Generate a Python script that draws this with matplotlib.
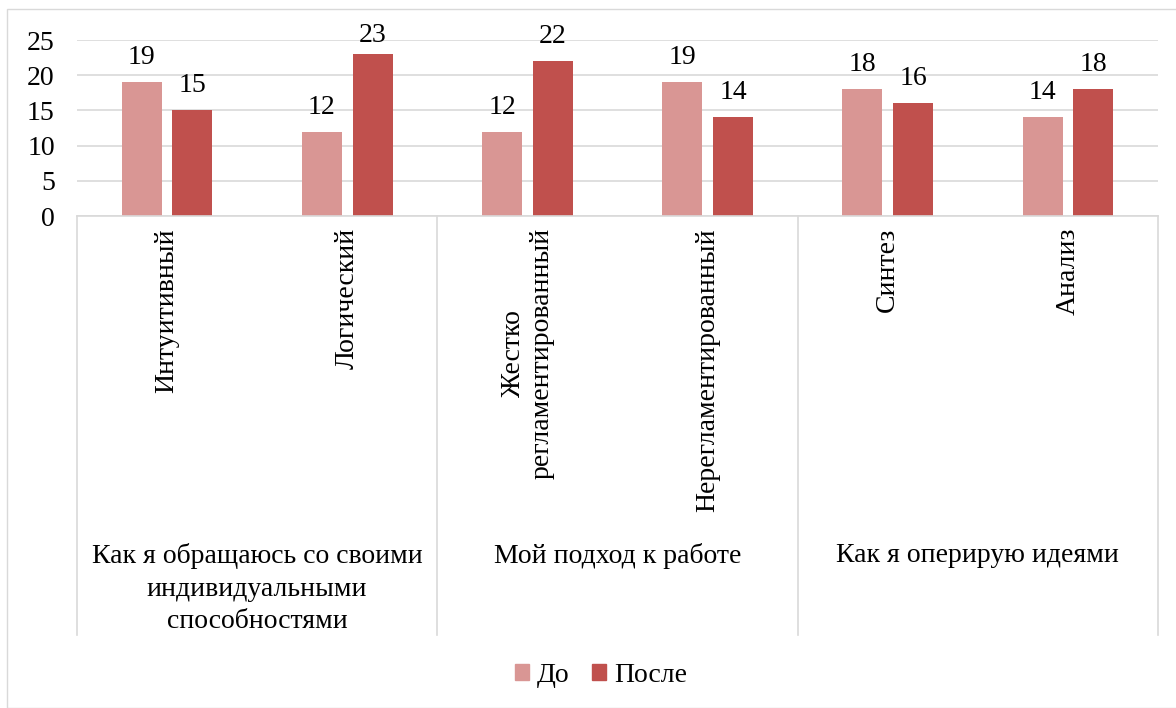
import matplotlib
matplotlib.use("Agg")
import matplotlib.pyplot as plt
import matplotlib.transforms as mtransforms
from matplotlib.patches import Rectangle
import numpy as np

plt.rcParams['font.family'] = ['Liberation Serif', 'DejaVu Serif']

categories = ["Интуитивный", "Логический", "Жестко\nрегламентированный",
              "Нерегламентированный", "Синтез", "Анализ"]
groups = ["Как я обращаюсь со своими\nиндивидуальными\nспособностями",
          "Мой подход к работе", "Как я оперирую идеями"]
group_sizes = [2, 2, 2]
series_names = ["До", "После"]
before = [19, 12, 12, 19, 18, 14]
after = [15, 23, 22, 14, 16, 18]
yticks = [0, 5, 10, 15, 20, 25]

c_before = "#D99694"
c_after = "#C0504D"
grid_c = "#D9D9D9"
fs = 20

W, H = 1176, 708
fig = plt.figure(figsize=(W / 100, H / 100), dpi=100)

# outer chart border
fig.patches.append(Rectangle((7 / W, 0), 1.2, 1 - 9 / H, transform=fig.transFigure,
                             fill=False, edgecolor=grid_c, linewidth=1.0))

ax_left, ax_right = 77 / W, 1158 / W
ax_bottom, ax_top = 1 - 216 / H, 1 - 40 / H
ax = fig.add_axes([ax_left, ax_bottom, ax_right - ax_left, ax_top - ax_bottom])

x = np.arange(len(categories))
bw = 0.222
gap = 0.03
b1 = ax.bar(x - bw / 2 - gap, before, bw, color=c_before, label=series_names[0], zorder=3)
b2 = ax.bar(x + bw / 2 + gap, after, bw, color=c_after, label=series_names[1], zorder=3)

ax.set_xlim(-0.5, len(categories) - 0.5)
ax.set_ylim(0, 25)
ax.set_yticks(yticks)
ax.set_yticklabels([str(t) for t in yticks], fontsize=fs)
ax.tick_params(axis='y', length=0, pad=16)
ax.set_xticks([])
for s in ax.spines.values():
    s.set_visible(False)
ax.grid(axis='y', color=grid_c, linewidth=1.2, zorder=0)
ax.set_axisbelow(True)

# value labels: baseline 18 px above bar top, kept inside the chart
lab_off = transforms_off = mtransforms.offset_copy(ax.transData, fig=fig, x=0, y=18, units='dots')
ymax_px = ax.transData.transform((0, 25))[1] - 2
for bars, vals in ((b1, before), (b2, after)):
    for r, v in zip(bars, vals):
        cx = r.get_x() + r.get_width() / 2
        px = ax.transData.transform((cx, v))
        by = min(px[1] + 18, ymax_px)
        dx, dy = ax.transData.inverted().transform((px[0], by))
        ax.text(cx, dy, str(v), ha='center', va='baseline', fontsize=fs, color='black',
                clip_on=False)

trans = mtransforms.blended_transform_factory(ax.transData, ax.transAxes)
axh = 216 - 40
def ay(py):
    return -(py - 216) / axh

# category box lines
ax.plot([-0.5, len(categories) - 0.5], [0, 0], transform=trans, color=grid_c,
        linewidth=1.2, clip_on=False, zorder=4)
bounds = [-0.5]
acc = -0.5
for g in group_sizes:
    acc += g
    bounds.append(acc)
for bx in bounds:
    ax.plot([bx, bx], [0, ay(635)], transform=trans, color=grid_c, linewidth=1.2,
            clip_on=False)

for i, lab in enumerate(categories):
    ax.text(i, ay(228), lab, transform=trans, rotation=90, ha='center', va='top',
            multialignment='center', fontsize=fs, linespacing=1.2)

start = -0.5
for g, gl in zip(group_sizes, groups):
    cx = start + g / 2
    ax.text(cx, ay(543), gl, transform=trans, ha='center', va='top',
            multialignment='center', fontsize=fs, linespacing=1.4)
    start += g

handles = [Rectangle((0, 0), 1, 1, color=c_before), Rectangle((0, 0), 1, 1, color=c_after)]
fig.legend(handles, series_names, loc='center', bbox_to_anchor=(601 / W, 1 - 675 / H),
           ncol=2, frameon=False, fontsize=fs, handlelength=0.5, handleheight=0.5,
           handletextpad=0.3, columnspacing=0.8)

fig.savefig("out.png", dpi=100, facecolor='white')
